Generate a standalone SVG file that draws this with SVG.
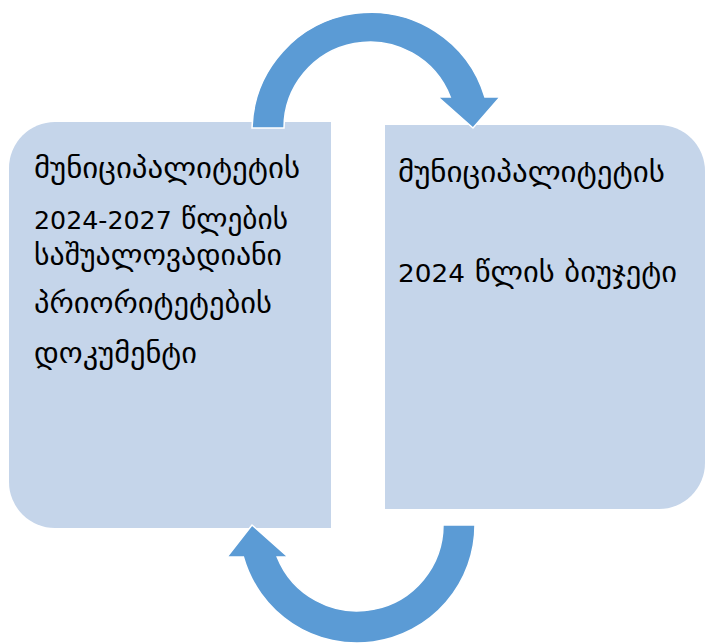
<svg xmlns="http://www.w3.org/2000/svg" width="705" height="643" viewBox="0 0 705 643">
<style>
.box{fill:#C5D5EA}
.arrow{fill:#5B9BD5;stroke:#ffffff;stroke-width:1.5;stroke-linejoin:miter}
.t{font-family:"DejaVu Sans","Noto Sans",sans-serif;font-size:29px;fill:#000}
.d{font-size:25px}
</style>
<rect width="705" height="643" fill="#ffffff"/>
<g id="node-left">
<path class="box" d="M55,122 H331 V528 H55 A46,46 0 0 1 9,482 V168 A46,46 0 0 1 55,122 Z"/>
<text class="t" x="34" y="178" textLength="266" lengthAdjust="spacingAndGlyphs">მუნიციპალიტეტის</text>
<text class="t" x="34" y="229" textLength="254" lengthAdjust="spacingAndGlyphs"><tspan class="d">2024-2027</tspan> წლების</text>
<text class="t" x="34" y="265" textLength="248" lengthAdjust="spacingAndGlyphs">საშუალოვადიანი</text>
<text class="t" x="34" y="313" textLength="238" lengthAdjust="spacingAndGlyphs">პრიორიტეტების</text>
<text class="t" x="34" y="363" textLength="163" lengthAdjust="spacingAndGlyphs">დოკუმენტი</text>
</g>
<g id="node-right">
<path class="box" d="M385,125 H659 A46,46 0 0 1 705,171 V463 A46,46 0 0 1 659,509 H385 Z"/>
<text class="t" x="398" y="182" textLength="267" lengthAdjust="spacingAndGlyphs">მუნიციპალიტეტის</text>
<text class="t" x="398" y="282" textLength="279" lengthAdjust="spacingAndGlyphs"><tspan class="d">2024</tspan> წლის ბიუჯეტი</text>
</g>
<g id="connectors">
<path class="arrow" d="M252,128 A119,119 0 0 1 484.9,97 L500,97 L473,128 L438,97 L450.2,97 A86,86 0 0 0 284,128 Z"/>
<path class="arrow" d="M475,525 A118,118 0 0 1 243.4,557 L227,557 L252,525 L288,557 L277.2,557 A86,86 0 0 0 443,525 Z"/>
</g>
</svg>
